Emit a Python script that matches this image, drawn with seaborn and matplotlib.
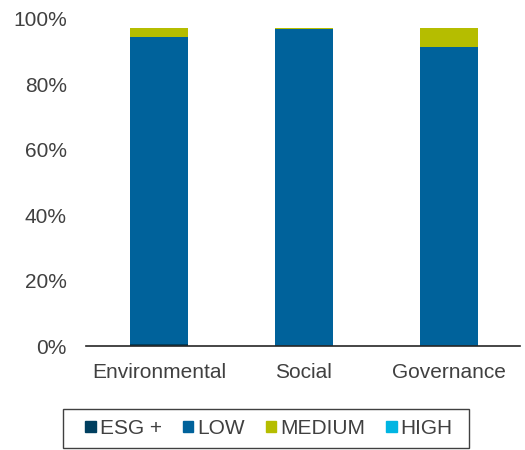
import matplotlib
matplotlib.use("Agg")
import matplotlib.pyplot as plt
import matplotlib.patches as mpatches
import seaborn as sns
import pandas as pd
import numpy as np

# Share of holdings by risk category for each pillar (%)
pillars = ["Environmental", "Social", "Governance"]
categories = ["ESG +", "LOW", "MEDIUM", "HIGH"]
esg_plus = [0.5, 0.0, 0.0]
low = [94.1, 96.8, 91.3]
medium = [2.6, 0.4, 5.9]
high = [0.0, 0.0, 0.0]
colors = ["#003f5f", "#00629b", "#b5bd00", "#00b5e2"]
y_ticks = [0, 20, 40, 60, 80, 100]

sns.set_theme(style="white")
plt.rcParams["font.family"] = ["Liberation Sans", "DejaVu Sans"]
text_color = "#404040"

fig = plt.figure(figsize=(5.25, 4.5), dpi=100)
ax = fig.add_axes([0.164, 0.231, 0.826, 0.727])

series = [esg_plus, low, medium, high]
cum = np.cumsum(np.array(series), axis=0)

# Stack by drawing cumulative totals from the top layer down
for i in range(len(categories) - 1, -1, -1):
    df = pd.DataFrame({"pillar": pillars, "value": cum[i]})
    sns.barplot(data=df, x="pillar", y="value", color=colors[i], width=0.4,
                saturation=1, linewidth=0, ax=ax, order=pillars)

ax.set_xlim(-0.503, 2.49)
ax.set_ylim(0, 100)
ax.set_yticks(y_ticks)
ax.set_yticklabels([f"{t}%" for t in y_ticks])
ax.set_xlabel("")
ax.set_ylabel("")
ax.tick_params(axis="both", length=0, labelsize=15, colors=text_color)
ax.tick_params(axis="x", pad=12.5)
ax.tick_params(axis="y", pad=14)
for s in ["left", "right", "top"]:
    ax.spines[s].set_visible(False)
ax.spines["bottom"].set_color("#262626")
ax.spines["bottom"].set_linewidth(1.2)

# Legend box drawn as its own frame so it can be wider than the entries
frame = mpatches.Rectangle((0.12, 0.0044), 0.7733, 0.0867, transform=fig.transFigure,
                           facecolor="white", edgecolor="#404040", linewidth=1.0,
                           zorder=0)
fig.patches.append(frame)

handles = [mpatches.Patch(color=c, label=l) for c, l in zip(colors, categories)]
leg = fig.legend(handles=handles, loc="center", bbox_to_anchor=(0.5124, 0.048),
                 ncol=4, frameon=False, fontsize=15,
                 handlelength=0.5, handleheight=0.5, handletextpad=0.2,
                 columnspacing=1.0, borderpad=0.45, labelcolor=text_color)

fig.savefig("out.png", dpi=100)
